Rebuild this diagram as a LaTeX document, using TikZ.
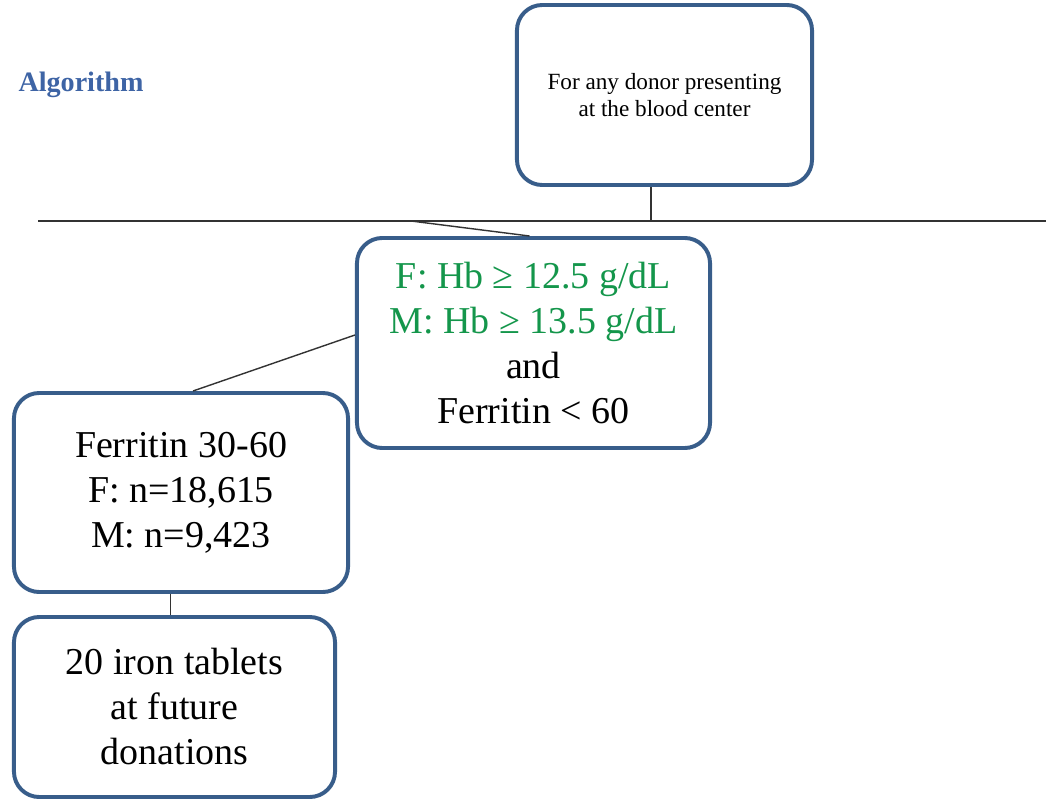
\documentclass[tikz,border=0pt]{standalone}
\usepackage{fontspec}
\setmainfont{Liberation Serif}
\usetikzlibrary{positioning}
\definecolor{boxblue}{RGB}{56,93,138}
\definecolor{titleblue}{RGB}{62,100,165}
\definecolor{hbgreen}{RGB}{20,150,75}
\tikzstyle{bx}=[rectangle,rounded corners=18pt,draw=boxblue,line width=2.8pt,align=center,inner sep=2pt]
\tikzstyle{big}=[font=\fontsize{27}{32}\selectfont]
\tikzstyle{lnk}=[line width=1pt,color=black!80]

\begin{document}
\begin{tikzpicture}[x=0.025cm,y=-0.025cm]
\useasboundingbox (0,0) rectangle (1046,801);
\node[font=\fontsize{20}{24}\selectfont\bfseries,text=titleblue] (title) at (81,85) {Algorithm};
\node[bx,minimum width=7.375cm,minimum height=4.5cm,font=\fontsize{16.5}{19}\selectfont] (donor) at (664.5,95) {For any donor presenting\\at the blood center};
\node[bx,big,minimum width=8.825cm,minimum height=5.25cm] (crit) at (533.5,343) {\textcolor{hbgreen}{F: Hb ≥ 12.5 g/dL}\\\textcolor{hbgreen}{M: Hb ≥ 13.5 g/dL}\\and\\Ferritin < 60};
\node[bx,big,minimum width=8.35cm,minimum height=4.975cm] (ferr) at (181,492.5) {Ferritin 30-60\\F: n=18,615\\M: n=9,423};
\node[bx,big,minimum width=8.025cm,minimum height=4.5cm] (iron) at (174.5,707) {20 iron tablets\\at future\\donations};
% branch line
\coordinate (bl) at (38,221);
\coordinate (br) at (1046,221);
\coordinate (bj) at (651,221);
\coordinate (bk) at (411,221);
\draw[lnk] (bl) -- (br);
\draw[lnk] (bj |- donor.south) -- (bj);
\draw[lnk] (bk) -- ([xshift=-0.1cm]crit.north);
\draw[lnk] ([yshift=0.2cm]crit.west) -- ([xshift=0.3cm]ferr.north);
\draw[lnk] ([xshift=-0.1cm]iron.north |- ferr.south) -- ([xshift=-0.1cm]iron.north);
\end{tikzpicture}
\end{document}
